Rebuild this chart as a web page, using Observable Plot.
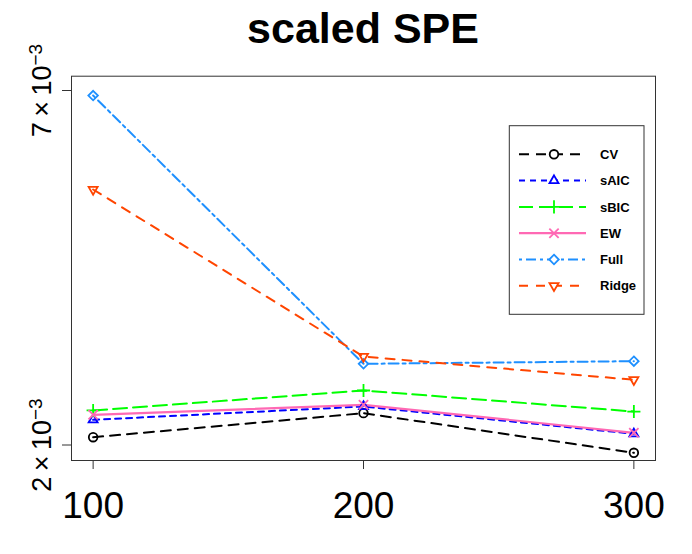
<!DOCTYPE html>
<html>
<head>
<meta charset="utf-8">
<script src="https://cdn.jsdelivr.net/npm/d3@7"></script>
<script src="https://cdn.jsdelivr.net/npm/@observablehq/plot@0.6"></script>
<style>
  body { margin: 0; background: #fff; }
  #wrap { position: relative; width: 692px; height: 554px; font-family: "Liberation Sans", Arial, Helvetica, sans-serif; }
  #title { margin-left: 71px; width: 584px; height: 56px; line-height: 56px; text-align: center; font-size: 43px; font-weight: bold; color: #000; }
  #legend { position: absolute; left: 0; top: 0; pointer-events: none; }
</style>
</head>
<body>
<div id="wrap">
  <div id="title">scaled SPE</div>
  <div id="chart"></div>
</div>
<script>
// ---- data ----
const sampleSizes = [100, 200, 300];
const seriesNames = ["CV", "sAIC", "sBIC", "EW", "Full", "Ridge"];
const cvValues    = [0.002110, 0.002449, 0.001890];
const saicValues  = [0.002355, 0.002543, 0.002158];
const sbicValues  = [0.002487, 0.002769, 0.002472];
const ewValues    = [0.002426, 0.002567, 0.002172];
const fullValues  = [0.006929, 0.003145, 0.003182];
const ridgeValues = [0.005604, 0.003248, 0.002920];
const yTickValues = [0.002, 0.007];
const yTickBase   = ["2\u2009\u00d7\u200910", "7\u2009\u00d7\u200910"];
const yTickExp    = ["\u22123", "\u22123"];
const xTickValues = [100, 200, 300];

// ---- styles ----
const seriesColors  = ["#000000", "#0000ff", "#00ff00", "#ff69b4", "#1e90ff", "#ff4500"];
const seriesDashes  = ["10,7", "6,5", "14,6", "none", "3,4,10,4", "9,8"];
const seriesSymbols = ["circle", "triangle2", "plus", "times", "diamond2", "triangle2"];
const seriesRotate  = [0, 0, 0, 0, 0, 180];
const seriesWidth   = [2, 2, 2, 2.2, 2, 2];

const allValues = [cvValues, saicValues, sbicValues, ewValues, fullValues, ridgeValues];
const table = [];
seriesNames.forEach((s, i) => sampleSizes.forEach((n, j) => table.push({series: s, n, value: allValues[i][j]})));

const W = 692, H = 498;
const marks = [Plot.frame({stroke: "#333", strokeWidth: 1})];
seriesNames.forEach((s, i) => {
  const rows = table.filter(d => d.series === s);
  marks.push(Plot.line(rows, {x: "n", y: "value", stroke: seriesColors[i], strokeWidth: seriesWidth[i],
    strokeDasharray: seriesDashes[i] === "none" ? undefined : seriesDashes[i]}));
});
seriesNames.forEach((s, i) => {
  const rows = table.filter(d => d.series === s);
  marks.push(Plot.dot(rows, {x: "n", y: "value", symbol: () => seriesSymbols[i], stroke: seriesColors[i],
    fill: "none", r: 4.3, strokeWidth: 1.8, rotate: seriesRotate[i]}));
});
marks.push(Plot.axisX({ticks: xTickValues, tickSize: 9, tickPadding: 22, fontSize: 37, tickFormat: d => String(d), stroke: "#333", label: null}));
marks.push(Plot.axisY({ticks: yTickValues, tickSize: 9, tickFormat: () => "", stroke: "#333", label: null}));
marks.push(Plot.text(yTickValues.map((v, i) => ({v, i})), {
  y: "v", text: d => yTickBase[d.i], frameAnchor: "left", rotate: -90,
  textAnchor: "middle", lineAnchor: "bottom", dx: -21, fontSize: 27, fill: "#000"
}));

const chart = Plot.plot({
  width: W, height: H,
  marginLeft: 71, marginRight: 37, marginTop: 19.7, marginBottom: 94,
  style: {fontFamily: "Liberation Sans, Arial, Helvetica, sans-serif", color: "#000", background: "#fff", overflow: "visible"},
  x: {type: "linear", domain: [92, 308], axis: null, label: null},
  y: {type: "linear", domain: [0.0017814, 0.0072017], axis: null, label: null},
  symbol: {type: "identity"},
  marks
});
document.getElementById("chart").appendChild(chart);

// superscripts on y labels
d3.select(chart).selectAll("text").each(function() {
  const idx = yTickBase.indexOf(this.textContent);
  if (idx >= 0) {
    d3.select(this).append("tspan").attr("dy", "-0.45em").attr("font-size", 19).text(yTickExp[idx]);
  }
});

// ---- legend ----
const symMap = {circle: d3.symbolCircle, triangle2: d3.symbolTriangle2, plus: d3.symbolPlus, times: d3.symbolTimes, diamond2: d3.symbolDiamond2};
const leg = d3.select("#wrap").append("svg").attr("id", "legend").attr("width", 692).attr("height", 554);
const lg = leg.append("g").attr("transform", "translate(509.3,125.7)");
lg.append("rect").attr("width", 134.7).attr("height", 188.6).attr("fill", "#fff").attr("stroke", "#333").attr("stroke-width", 1);
seriesNames.forEach((s, i) => {
  const g = lg.append("g").attr("transform", `translate(0,${28.6 + 26.3 * i})`);
  g.append("line").attr("x1", 9.7).attr("x2", 76.7).attr("y1", 0).attr("y2", 0)
    .attr("stroke", seriesColors[i]).attr("stroke-width", seriesWidth[i])
    .attr("stroke-dasharray", seriesDashes[i] === "none" ? null : seriesDashes[i]);
  g.append("path").attr("d", d3.symbol(symMap[seriesSymbols[i]], 4.3 * 4.3 * Math.PI)())
    .attr("transform", `translate(44.7,0) rotate(${seriesRotate[i]})`)
    .attr("fill", "#fff").attr("stroke", seriesColors[i]).attr("stroke-width", 1.8);
  g.append("text").attr("x", 90.7).attr("y", 0).attr("dy", "0.36em").attr("font-size", 13).attr("font-weight", "bold")
    .attr("font-family", "Liberation Sans, Arial, sans-serif").text(s);
});
</script>
</body>
</html>
